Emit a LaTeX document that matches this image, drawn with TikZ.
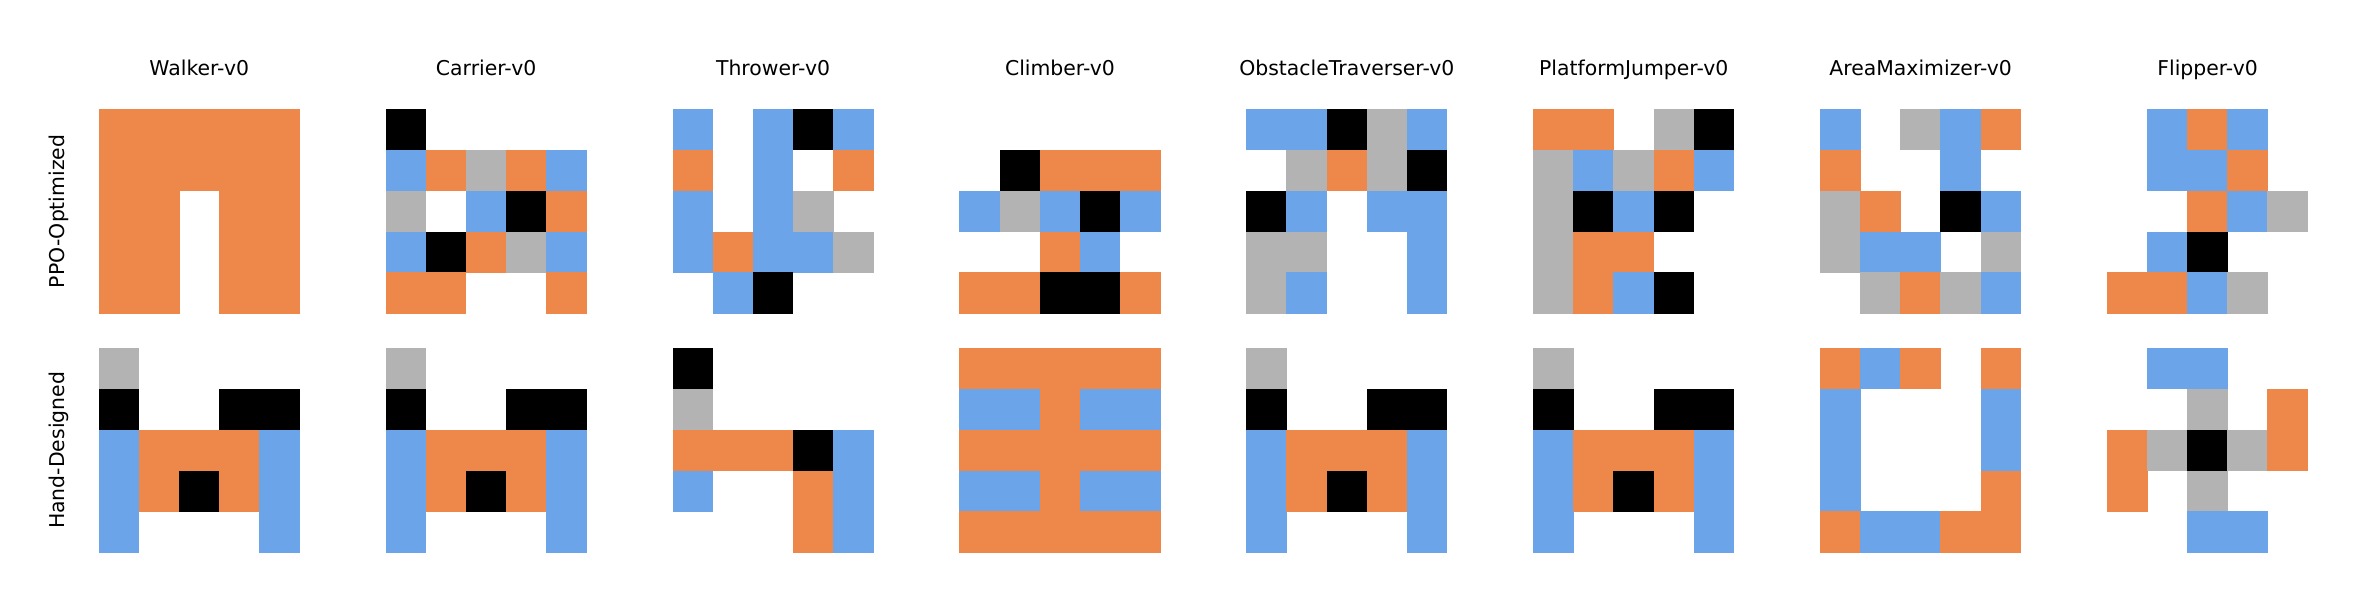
\documentclass[tikz,border=0pt]{standalone}
\usepackage{fontspec}
\setmainfont{DejaVu Sans}
\definecolor{c1}{RGB}{0,0,0}
\definecolor{c2}{RGB}{179,179,179}
\definecolor{c3}{RGB}{238,136,74}
\definecolor{c4}{RGB}{107,164,233}
\newcommand{\drawbot}[3]{%
  \foreach \rw [count=\ri from 0] in {#3} {
    \foreach \cv [count=\ki from 0] in \rw {
      \ifnum\cv>0
        \fill[c\cv] ({#1+\ki*40.1-0.3},{#2+\ri*40.94-0.3}) rectangle ({#1+(\ki+1)*40.1+0.3},{#2+(\ri+1)*40.94+0.3});
      \fi
    }
  }
}
\begin{document}
\begin{tikzpicture}[x=0.5pt,y=-0.5pt,
  ttl/.style={anchor=base,inner sep=0pt,font=\fontsize{10.2}{12}\selectfont},
  rowlab/.style={anchor=base,rotate=90,inner sep=0pt,font=\fontsize{10.2}{12}\selectfont}]
\useasboundingbox (0,0) rectangle (2364,614);
% titles
\node[ttl] (t1) at ({99+0*286.9+100.25},76) {Walker-v0};
\node[ttl] (t2) at ({99+1*286.9+100.25},76) {Carrier-v0};
\node[ttl] (t3) at ({99+2*286.9+100.25},76) {Thrower-v0};
\node[ttl] (t4) at ({99+3*286.9+100.25},76) {Climber-v0};
\node[ttl] (t5) at ({99+4*286.9+100.25},76) {ObstacleTraverser-v0};
\node[ttl] (t6) at ({99+5*286.9+100.25},76) {PlatformJumper-v0};
\node[ttl] (t7) at ({99+6*286.9+100.25},76) {AreaMaximizer-v0};
\node[ttl] (t8) at ({99+7*286.9+100.25},76) {Flipper-v0};
% row labels
\node[rowlab] (lp) at (64,211.4) {PPO-Optimized};
\node[rowlab] (lh) at (64,450.4) {Hand-Designed};
% PPO-optimized row
\drawbot{99+0*286.9}{109}{{3,3,3,3,3},{3,3,3,3,3},{3,3,0,3,3},{3,3,0,3,3},{3,3,0,3,3}}
\drawbot{99+1*286.9}{109}{{1,0,0,0,0},{4,3,2,3,4},{2,0,4,1,3},{4,1,3,2,4},{3,3,0,0,3}}
\drawbot{99+2*286.9}{109}{{4,0,4,1,4},{3,0,4,0,3},{4,0,4,2,0},{4,3,4,4,2},{0,4,1,0,0}}
\drawbot{99+3*286.9}{109}{{0,0,0,0,0},{0,1,3,3,3},{4,2,4,1,4},{0,0,3,4,0},{3,3,1,1,3}}
\drawbot{99+4*286.9}{109}{{4,4,1,2,4},{0,2,3,2,1},{1,4,0,4,4},{2,2,0,0,4},{2,4,0,0,4}}
\drawbot{99+5*286.9}{109}{{3,3,0,2,1},{2,4,2,3,4},{2,1,4,1,0},{2,3,3,0,0},{2,3,4,1,0}}
\drawbot{99+6*286.9}{109}{{4,0,2,4,3},{3,0,0,4,0},{2,3,0,1,4},{2,4,4,0,2},{0,2,3,2,4}}
\drawbot{99+7*286.9}{109}{{0,4,3,4,0},{0,4,4,3,0},{0,0,3,4,2},{0,4,1,0,0},{3,3,4,2,0}}
% hand-designed row
\drawbot{99+0*286.9}{348}{{2,0,0,0,0},{1,0,0,1,1},{4,3,3,3,4},{4,3,1,3,4},{4,0,0,0,4}}
\drawbot{99+1*286.9}{348}{{2,0,0,0,0},{1,0,0,1,1},{4,3,3,3,4},{4,3,1,3,4},{4,0,0,0,4}}
\drawbot{99+2*286.9}{348}{{1,0,0,0,0},{2,0,0,0,0},{3,3,3,1,4},{4,0,0,3,4},{0,0,0,3,4}}
\drawbot{99+3*286.9}{348}{{3,3,3,3,3},{4,4,3,4,4},{3,3,3,3,3},{4,4,3,4,4},{3,3,3,3,3}}
\drawbot{99+4*286.9}{348}{{2,0,0,0,0},{1,0,0,1,1},{4,3,3,3,4},{4,3,1,3,4},{4,0,0,0,4}}
\drawbot{99+5*286.9}{348}{{2,0,0,0,0},{1,0,0,1,1},{4,3,3,3,4},{4,3,1,3,4},{4,0,0,0,4}}
\drawbot{99+6*286.9}{348}{{3,4,3,0,3},{4,0,0,0,4},{4,0,0,0,4},{4,0,0,0,3},{3,4,4,3,3}}
\drawbot{99+7*286.9}{348}{{0,4,4,0,0},{0,0,2,0,3},{3,2,1,2,3},{3,0,2,0,0},{0,0,4,4,0}}
\end{tikzpicture}
\end{document}
